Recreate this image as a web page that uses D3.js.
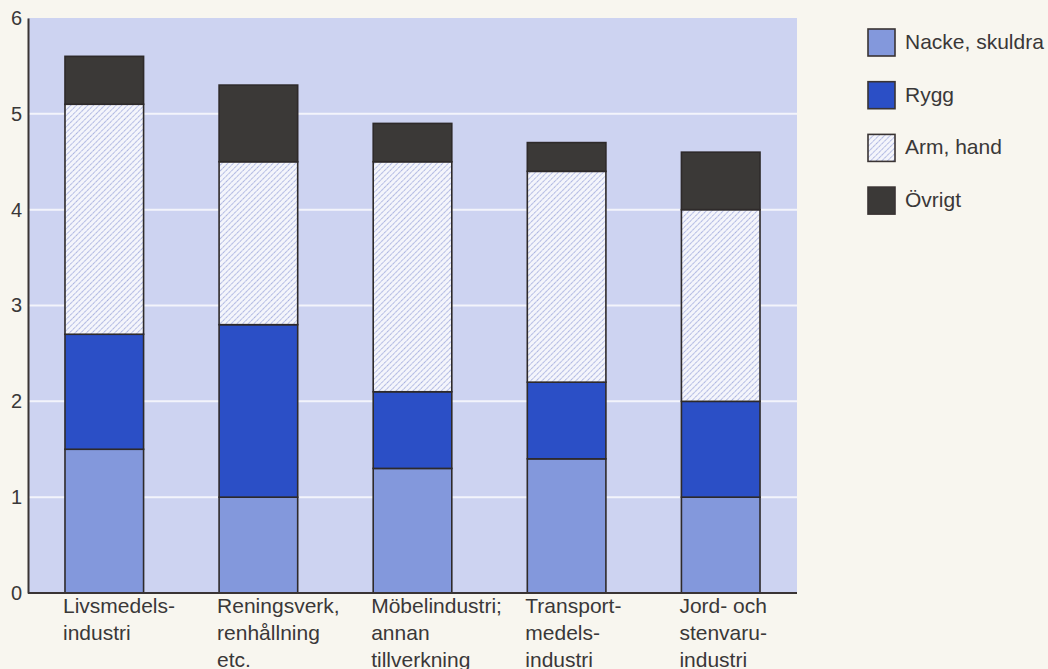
<!DOCTYPE html>
<html>
<head>
<meta charset="utf-8">
<script src="https://cdn.jsdelivr.net/npm/d3@7"></script>
<style>
  body { margin: 0; background: #f8f6ef; }
  svg { display: block; font-family: "Liberation Sans", Arial, sans-serif; }
</style>
</head>
<body>
<div id="chart"></div>
<script>
// Data.
const categories = [
  ["Livsmedels-", "industri"],
  ["Reningsverk,", "renhållning", "etc."],
  ["Möbelindustri;", "annan", "tillverkning"],
  ["Transport-", "medels-", "industri"],
  ["Jord- och", "stenvaru-", "industri"]
];
const seriesNames = ["Nacke, skuldra", "Rygg", "Arm, hand", "Övrigt"];
const nacke = [1.5, 1.0, 1.3, 1.4, 1.0];
const rygg = [1.2, 1.8, 0.8, 0.8, 1.0];
const arm = [2.4, 1.7, 2.4, 2.2, 2.0];
const ovrigt = [0.5, 0.8, 0.4, 0.3, 0.6];
const yTicks = [0, 1, 2, 3, 4, 5, 6];

const width = 1048, height = 669;
const marginLeft = 28, marginRight = 251, marginTop = 18, marginBottom = 76;

const rows = categories.map((c, i) => ({
  key: i,
  "Nacke, skuldra": nacke[i],
  "Rygg": rygg[i],
  "Arm, hand": arm[i],
  "Övrigt": ovrigt[i]
}));
const stacked = d3.stack().keys(seriesNames)(rows);

const x = d3.scaleBand()
  .domain(d3.range(categories.length))
  .range([marginLeft, width - marginRight])
  .paddingInner(0.49)
  .paddingOuter(0.24);

const y = d3.scaleLinear()
  .domain([0, 6])
  .range([height - marginBottom, marginTop]);

const svg = d3.select("#chart")
  .append("svg")
  .attr("width", width)
  .attr("height", height)
  .attr("viewBox", [0, 0, width, height]);

// Hatch pattern for "Arm, hand".
const defs = svg.append("defs");
const pat = defs.append("pattern")
  .attr("id", "hatch")
  .attr("patternUnits", "userSpaceOnUse")
  .attr("width", 4)
  .attr("height", 4)
  .attr("patternTransform", "rotate(45)");
pat.append("rect").attr("width", 4).attr("height", 4).attr("fill", "#f4f5fb");
pat.append("line")
  .attr("x1", 0).attr("y1", 0).attr("x2", 0).attr("y2", 4)
  .attr("stroke", "#8f9bd6")
  .attr("stroke-width", 1.5)
  .attr("stroke-dasharray", "1.5,0.8");

const fills = {
  "Nacke, skuldra": "#8398dc",
  "Rygg": "#2b4fc6",
  "Arm, hand": "url(#hatch)",
  "Övrigt": "#3b3937"
};

// Plot background.
svg.append("rect")
  .attr("x", marginLeft)
  .attr("y", y(6))
  .attr("width", width - marginRight - marginLeft)
  .attr("height", y(0) - y(6))
  .attr("fill", "#cdd3f1");

// White gridlines.
svg.append("g")
  .selectAll("line")
  .data(yTicks.filter(d => d > 0 && d < 6))
  .join("line")
  .attr("x1", marginLeft)
  .attr("x2", width - marginRight)
  .attr("y1", d => y(d))
  .attr("y2", d => y(d))
  .attr("stroke", "#f3f4fb")
  .attr("stroke-width", 2);

// Bars.
svg.append("g")
  .selectAll("g")
  .data(stacked)
  .join("g")
  .attr("fill", s => fills[s.key])
  .selectAll("rect")
  .data(s => s)
  .join("rect")
  .attr("x", d => x(d.data.key))
  .attr("y", d => y(d[1]))
  .attr("width", x.bandwidth())
  .attr("height", d => y(d[0]) - y(d[1]))
  .attr("stroke", "#2e2a2a")
  .attr("stroke-width", 1.6);

// Axes.
const yAxis = svg.append("g")
  .attr("transform", `translate(${marginLeft},0)`)
  .call(d3.axisLeft(y).tickValues(yTicks).tickFormat(d3.format("d")).tickSize(0).tickPadding(6));
yAxis.select(".domain").attr("stroke", "#3a3434").attr("stroke-width", 2);
yAxis.selectAll("text")
  .attr("font-size", 20)
  .attr("font-family", "Liberation Sans, Arial, sans-serif")
  .attr("fill", "#3a3838");

svg.append("line")
  .attr("x1", marginLeft)
  .attr("x2", width - marginRight)
  .attr("y1", y(0))
  .attr("y2", y(0))
  .attr("stroke", "#3a3434")
  .attr("stroke-width", 2);

// Category labels.
svg.append("g")
  .selectAll("text")
  .data(categories)
  .join("text")
  .attr("x", (d, i) => x(i) - 2)
  .attr("y", y(0) + 20)
  .attr("font-size", 21)
  .attr("fill", "#3a3838")
  .selectAll("tspan")
  .data(d => d)
  .join("tspan")
  .attr("x", function () { return this.parentNode.getAttribute("x"); })
  .attr("dy", (d, i) => i === 0 ? 0 : 27)
  .text(d => d);

// Legend.
const legend = svg.append("g")
  .attr("transform", "translate(868,29)")
  .selectAll("g")
  .data(seriesNames)
  .join("g")
  .attr("transform", (d, i) => `translate(0,${i * 52.7})`);
legend.append("rect")
  .attr("width", 27)
  .attr("height", 27)
  .attr("fill", d => fills[d])
  .attr("stroke", "#3a3434")
  .attr("stroke-width", 1.6);
legend.append("text")
  .attr("x", 37)
  .attr("y", 20)
  .attr("font-size", 21)
  .attr("fill", "#3a3838")
  .text(d => d);
</script>
</body>
</html>
